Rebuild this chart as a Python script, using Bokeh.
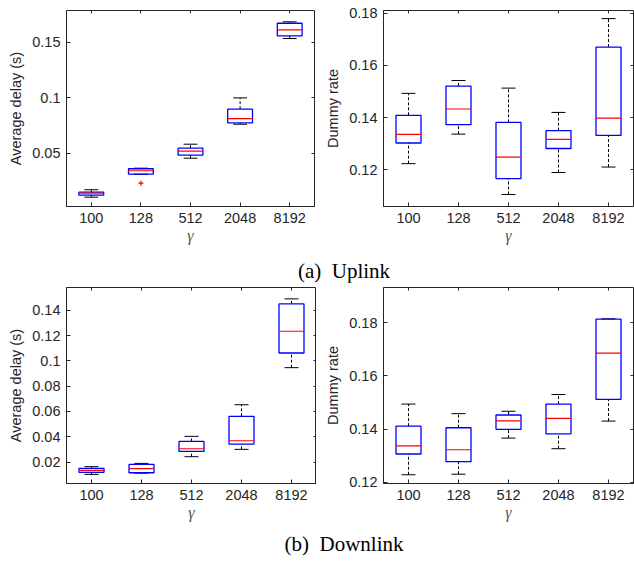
from bokeh.plotting import figure
from bokeh.models import (LinearAxis, FixedTicker, CustomJSTickFormatter, Range1d, Div, ColumnDataSource)
from bokeh.layouts import column, row
from bokeh.embed import file_html
from bokeh.resources import INLINE

# ---------------- data ----------------
cats = ["100", "128", "512", "2048", "8192"]

up_delay_lo  = [0.0104, 0.0310, 0.0455, 0.0761, 0.1533]
up_delay_q1  = [0.0122, 0.0311, 0.0482, 0.0773, 0.1557]
up_delay_med = [0.0140, 0.0342, 0.0518, 0.0812, 0.1610]
up_delay_q3  = [0.0149, 0.0360, 0.0545, 0.0896, 0.1670]
up_delay_hi  = [0.0171, 0.0365, 0.0581, 0.0998, 0.1683]
up_delay_out_cat = ["128"]
up_delay_out_val = [0.023]

up_dummy_lo  = [0.1224, 0.1337, 0.1106, 0.1190, 0.1211]
up_dummy_q1  = [0.1303, 0.1373, 0.1167, 0.1282, 0.1332]
up_dummy_med = [0.1336, 0.1433, 0.1249, 0.1317, 0.1398]
up_dummy_q3  = [0.1409, 0.1521, 0.1382, 0.1350, 0.1670]
up_dummy_hi  = [0.1493, 0.1542, 0.1513, 0.1420, 0.1779]

dn_delay_lo  = [0.0102, 0.0112, 0.0242, 0.0300, 0.0946]
dn_delay_q1  = [0.0118, 0.0115, 0.0284, 0.0342, 0.1062]
dn_delay_med = [0.0134, 0.0147, 0.0305, 0.0368, 0.1234]
dn_delay_q3  = [0.0150, 0.0181, 0.0363, 0.0561, 0.1450]
dn_delay_hi  = [0.0163, 0.0189, 0.0403, 0.0653, 0.1490]

dn_dummy_lo  = [0.1228, 0.1230, 0.1366, 0.1326, 0.1430]
dn_dummy_q1  = [0.1306, 0.1277, 0.1399, 0.1382, 0.1512]
dn_dummy_med = [0.1337, 0.1322, 0.1431, 0.1440, 0.1686]
dn_dummy_q3  = [0.1411, 0.1405, 0.1453, 0.1494, 0.1814]
dn_dummy_hi  = [0.1494, 0.1458, 0.1467, 0.1530, 0.1815]

up_delay_ticks = [0.05, 0.1, 0.15]
up_dummy_ticks = [0.12, 0.14, 0.16, 0.18]
dn_delay_ticks = [0.02, 0.04, 0.06, 0.08, 0.1, 0.12, 0.14]
dn_dummy_ticks = [0.12, 0.14, 0.16, 0.18]

AX = "#262626"
FONT = "Liberation Sans"
TICK_FS = "14.5px"

fmt_code = "return String(Math.round(tick*1000)/1000);"
blank_code = "return '';"


def make_fig(lo, q1, med, q3, hi, yr, yticks, ylabel, bl, fw, br, bt, fh, bb,
             out_cat=None, out_val=None):
    xs = [i + 1 for i in range(len(cats))]
    p = figure(frame_width=fw, frame_height=fh, min_border_left=bl, min_border_right=br,
               min_border_top=bt, min_border_bottom=bb,
               x_range=Range1d(0.5, len(cats) + 0.5), y_range=Range1d(*yr),
               output_backend="svg", toolbar_location=None)
    p.grid.visible = False
    p.outline_line_color = AX
    p.outline_line_width = 1
    p.background_fill_color = "white"
    p.border_fill_color = "white"

    # axes
    for ax in p.xaxis:
        ax.ticker = FixedTicker(ticks=xs)
        ax.major_label_overrides = {x: c for x, c in zip(xs, cats)}
        ax.axis_label = "γ"
        ax.axis_label_text_font = "Liberation Serif"
        ax.axis_label_text_font_style = "italic"
        ax.axis_label_text_font_size = "16px"
        ax.axis_label_text_color = "#555555"
        ax.axis_label_standoff = 1
    for ax in p.yaxis:
        ax.ticker = FixedTicker(ticks=yticks)
        ax.formatter = CustomJSTickFormatter(code=fmt_code)
        ax.axis_label = ylabel
        ax.axis_label_text_font = FONT
        ax.axis_label_text_font_style = "normal"
        ax.axis_label_text_font_size = "14.5px"
        ax.axis_label_text_color = AX
        ax.axis_label_standoff = 5
    for ax in p.axis:
        ax.major_tick_in = 4
        ax.major_tick_out = 0
        ax.minor_tick_line_color = None
        ax.axis_line_color = AX
        ax.major_tick_line_color = AX
        ax.major_label_text_font = FONT
        ax.major_label_text_font_size = TICK_FS
        ax.major_label_text_color = AX
        ax.major_label_standoff = 6

    # mirrored ticks on right and top (no labels)
    ra = LinearAxis(ticker=FixedTicker(ticks=yticks), major_tick_in=3, major_tick_out=0,
                    minor_tick_line_color=None, axis_line_color=None,
                    major_tick_line_color=AX, formatter=CustomJSTickFormatter(code=blank_code),
                    major_label_text_font_size="1px", major_label_standoff=0)
    p.add_layout(ra, "right")
    ta = LinearAxis(ticker=FixedTicker(ticks=xs), major_tick_in=3, major_tick_out=0,
                    minor_tick_line_color=None, axis_line_color=None,
                    major_tick_line_color=AX, formatter=CustomJSTickFormatter(code=blank_code),
                    major_label_text_font_size="1px", major_label_standoff=0)
    p.add_layout(ta, "above")

    src = ColumnDataSource(dict(
        x=xs, lo=lo, q1=q1, med=med, q3=q3, hi=hi,
        bl=[x - 0.25 for x in xs], br=[x + 0.25 for x in xs],
        cl=[x - 0.14 for x in xs], cr=[x + 0.14 for x in xs],
    ))
    # whiskers (dashed)
    p.segment(x0="x", y0="q3", x1="x", y1="hi", source=src, line_color="black",
              line_width=1, line_dash="3 2")
    p.segment(x0="x", y0="lo", x1="x", y1="q1", source=src, line_color="black",
              line_width=1, line_dash="3 2")
    # caps
    p.segment(x0="cl", y0="hi", x1="cr", y1="hi", source=src, line_color="black", line_width=1)
    p.segment(x0="cl", y0="lo", x1="cr", y1="lo", source=src, line_color="black", line_width=1)
    # boxes
    p.quad(left="bl", right="br", bottom="q1", top="q3", source=src,
           fill_color=None, line_color="blue", line_width=1.3)
    # medians
    p.segment(x0="bl", y0="med", x1="br", y1="med", source=src, line_color="red", line_width=1.2)
    # outliers
    if out_cat:
        ox = [cats.index(c) + 1 for c in out_cat]
        p.scatter(ox, out_val, marker="cross", size=5, line_color="red", line_width=1.2)
    return p


p1 = make_fig(up_delay_lo, up_delay_q1, up_delay_med, up_delay_q3, up_delay_hi,
              (0.002, 0.1785), up_delay_ticks, "Average delay (s)",
              66, 248, 2, 10, 196, 44, up_delay_out_cat, up_delay_out_val)
p2 = make_fig(up_dummy_lo, up_dummy_q1, up_dummy_med, up_dummy_q3, up_dummy_hi,
              (0.106, 0.181), up_dummy_ticks, "Dummy rate",
              67, 250, 1, 10, 196, 44)
p3 = make_fig(dn_delay_lo, dn_delay_q1, dn_delay_med, dn_delay_q3, dn_delay_hi,
              (0.003, 0.158), dn_delay_ticks, "Average delay (s)",
              66, 250, 0, 5, 196, 44)
p4 = make_fig(dn_dummy_lo, dn_dummy_q1, dn_dummy_med, dn_dummy_q3, dn_dummy_hi,
              (0.1195, 0.1933), dn_dummy_ticks, "Dummy rate",
              67, 250, 1, 5, 196, 44)

cap_style = ("width:634px; box-sizing:border-box; padding-left:54px; text-align:center; "
             "font-family:'Liberation Serif', serif; font-size:21px; line-height:20px; color:#000;")
d1 = Div(text=f'<div style="{cap_style} padding-top:11px;">(a)&nbsp; Uplink</div>',
         width=634, height=32, margin=0)
d2 = Div(text=f'<div style="{cap_style} padding-top:7px;">(b)&nbsp; Downlink</div>',
         width=634, height=35, margin=0)

layout = column(row(p1, p2, spacing=0), d1, row(p3, p4, spacing=0), d2, spacing=0)

open("out.html", "w").write(file_html(layout, INLINE))
